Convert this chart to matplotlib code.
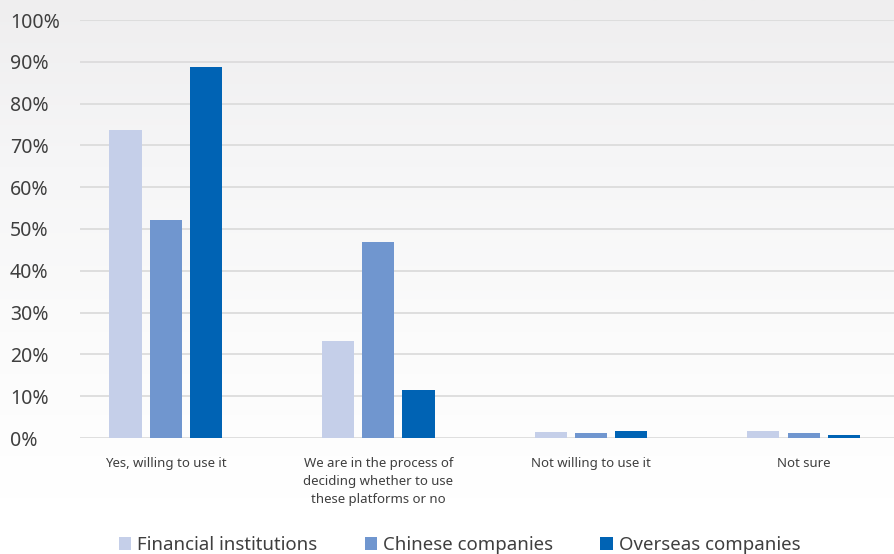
import numpy as np
import matplotlib.pyplot as plt
from matplotlib.patches import Patch
from matplotlib.colors import LinearSegmentedColormap

plt.rcParams['font.family'] = ['Noto Sans', 'DejaVu Sans']

# Data
categories = [
    "Yes, willing to use it",
    "We are in the process of\ndeciding whether to use\nthese platforms or no",
    "Not willing to use it",
    "Not sure",
]
series_names = ["Financial institutions", "Chinese companies", "Overseas companies"]
financial = [73.7, 23.2, 1.4, 1.7]
chinese   = [52.2, 46.9, 1.2, 1.2]
overseas  = [88.8, 11.5, 1.7, 0.7]
y_ticks   = [0, 10, 20, 30, 40, 50, 60, 70, 80, 90, 100]

colors = ["#c5cfe9", "#7096cf", "#0063b4"]
text_col = "#3f3f3f"

fig = plt.figure(figsize=(8.95, 5.54), dpi=100)
fig.patch.set_facecolor("white")

# soft grey-to-white background gradient
bg = fig.add_axes([0, 0, 1, 1], zorder=-10)
grad = np.linspace(0, 1, 256).reshape(-1, 1)
cmap = LinearSegmentedColormap.from_list("bg", ["#efeeef", "#f6f6f7", "#fbfbfb", "#ffffff"])
bg.imshow(grad, aspect="auto", cmap=cmap, extent=[0, 1, 0.1, 1], origin="upper")
bg.set_xlim(0, 1)
bg.set_ylim(0, 1)
bg.axis("off")

W, H = 895, 554
ax = fig.add_axes([80 / W, (H - 438) / H, (W - 80) / W, 418 / H])
ax.set_facecolor("none")

x = np.arange(len(categories))
bw = 0.151
off = 0.189
for i, (vals, c) in enumerate(zip([financial, chinese, overseas], colors)):
    ax.bar(x + (i - 1) * off, vals, width=bw, color=c, zorder=3)

ax.set_xlim(-0.403, 3.43)
ax.set_ylim(0, 100)
ax.set_yticks(y_ticks)
ax.set_yticklabels([f"{v}%" for v in y_ticks], fontsize=14, color=text_col)
ax.set_xticks(x)
ax.set_xticklabels(categories, fontsize=9.5, color=text_col, linespacing=1.5, va="top")
ax.tick_params(axis="both", length=0)
ax.tick_params(axis="x", pad=14)
for lbl in ax.get_yticklabels():
    lbl.set_horizontalalignment("left")
    lbl.set_x(-70 / (W - 80))
ax.yaxis.set_tick_params(pad=0)

ax.grid(axis="y", color="#dcdcdc", lw=1.3, zorder=0)
ax.set_axisbelow(True)
for s in ax.spines.values():
    s.set_visible(False)

handles = [Patch(facecolor=c, edgecolor="none") for c in colors]
leg = fig.legend(handles, series_names, loc="center", bbox_to_anchor=(0.5134, 1 - 545 / H),
                 ncol=3, frameon=False, fontsize=13.4, handlelength=0.68, handleheight=0.68,
                 handletextpad=0.3, columnspacing=2.55)
for t in leg.get_texts():
    t.set_color(text_col)

fig.savefig("out.png", dpi=100)
